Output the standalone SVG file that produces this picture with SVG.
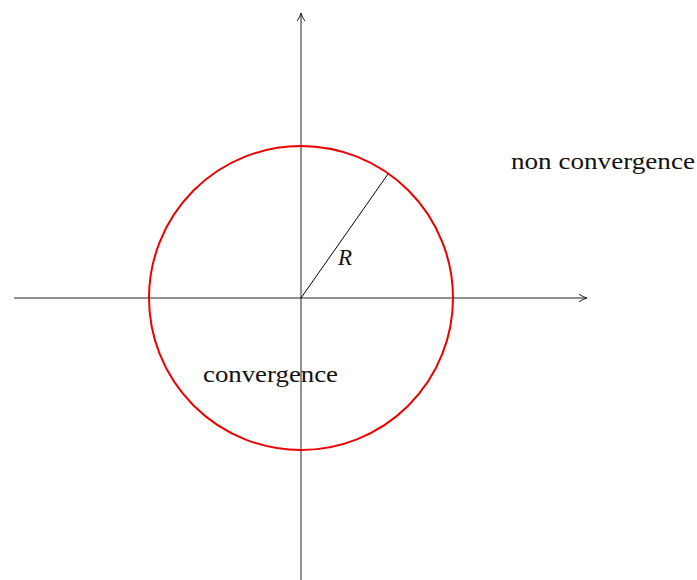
<svg xmlns="http://www.w3.org/2000/svg" width="697" height="580" viewBox="0 0 697 580">
<defs>
<marker id="arr" viewBox="0 0 10 10" refX="9" refY="5" markerWidth="10" markerHeight="10" markerUnits="userSpaceOnUse" orient="auto">
<path d="M1,1.2 Q5,4 9,5 Q5,6 1,8.8" fill="none" stroke="#222" stroke-width="1"/>
</marker>
<style>
.ax{stroke:#222;stroke-width:1;fill:none}
.t{font-family:"Liberation Serif",serif;font-size:23px;fill:#111}
</style>
</defs>
<rect width="697" height="580" fill="#fff"/>
<g id="connectors">
<line class="ax" x1="14" y1="298" x2="587" y2="298" marker-end="url(#arr)"/>
<line class="ax" x1="301" y1="580" x2="301" y2="13" marker-end="url(#arr)"/>
<line x1="301" y1="298" x2="388" y2="174" stroke="#000" stroke-width="1"/>
</g>
<g id="circle">
<circle cx="301" cy="298" r="152" fill="none" stroke="#e00" stroke-width="2"/>
</g>
<g id="label-R">
<text class="t" x="338" y="265" font-style="italic" font-size="22">R</text>
</g>
<g id="convergence">
<text class="t" x="203" y="382" textLength="135" lengthAdjust="spacingAndGlyphs">convergence</text>
</g>
<g id="non-convergence">
<text class="t" x="511" y="169" textLength="184" lengthAdjust="spacingAndGlyphs">non convergence</text>
</g>
</svg>
